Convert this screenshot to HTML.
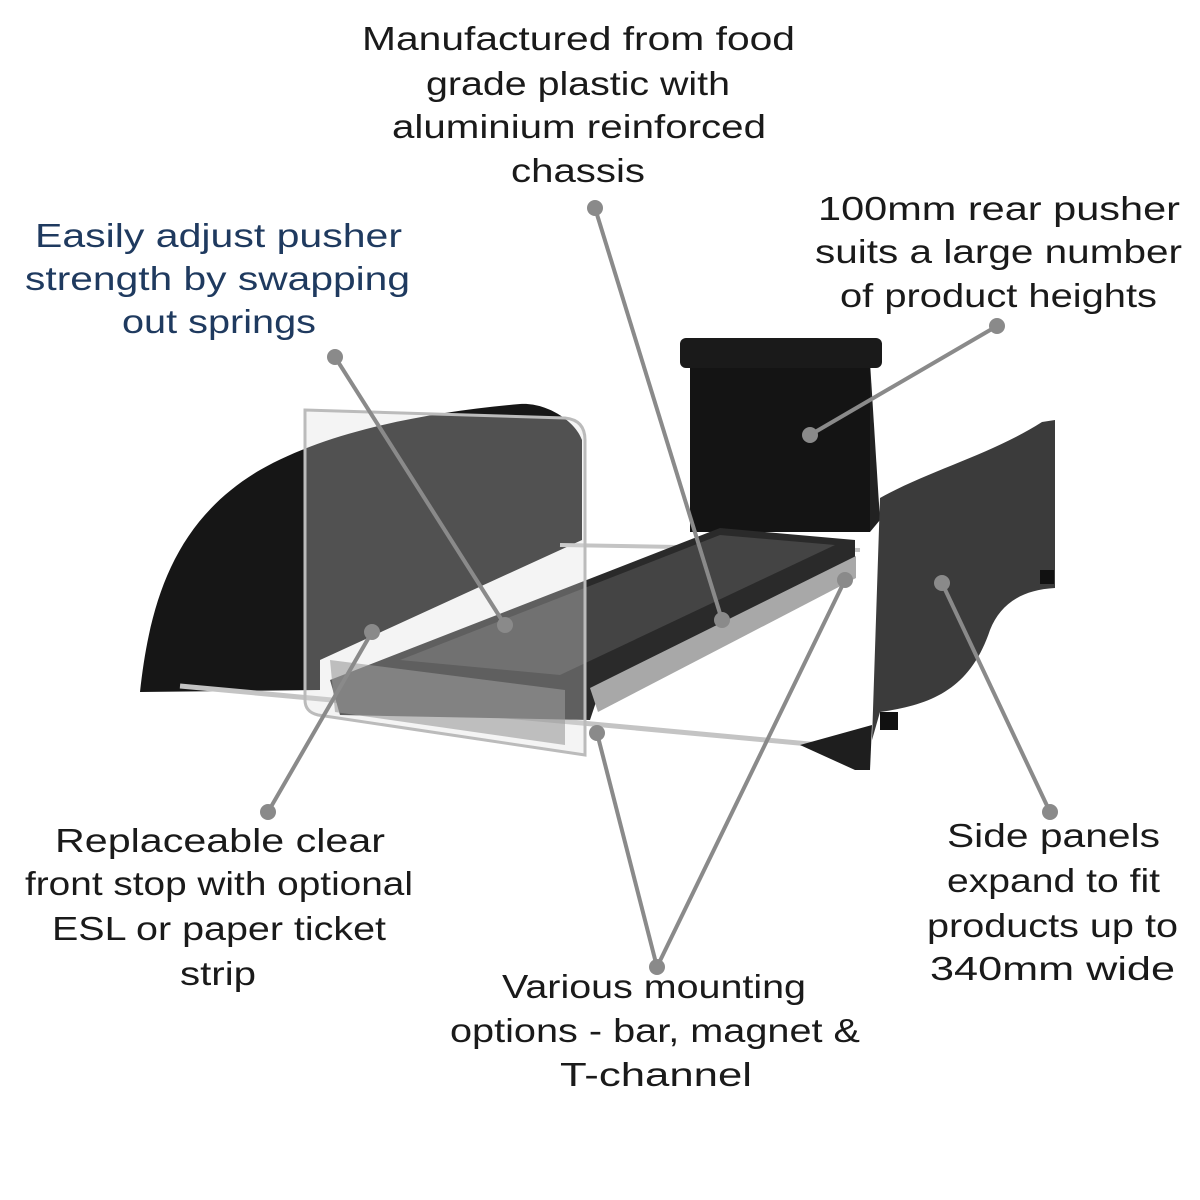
<!DOCTYPE html>
<html><head><meta charset="utf-8"><style>
html,body{margin:0;padding:0;background:#fff;}
svg{display:block;}
text{font-family:"Liberation Sans",sans-serif;font-size:33px;fill:#1a1a1a;font-weight:normal;}
.b{fill:#1f3a5f;}
</style></head><body>
<svg width="1200" height="1200" viewBox="0 0 1200 1200" xmlns="http://www.w3.org/2000/svg">
<rect width="1200" height="1200" fill="#fff"/>
<!-- left side panel -->
<path d="M140,692 C150,600 175,520 260,470 C330,430 430,412 520,404 C545,402 575,420 582,440 L582,540 L320,660 L320,690 Z" fill="#161616"/>
<!-- rods -->
<line x1="180" y1="686" x2="820" y2="745" stroke="#c4c4c4" stroke-width="5"/>
<line x1="560" y1="545" x2="860" y2="550" stroke="#c4c4c4" stroke-width="4"/>
<!-- rear pusher -->
<rect x="690" y="362" width="180" height="170" fill="#141414"/>
<path d="M870,362 L880,520 L870,532 Z" fill="#222"/>
<rect x="680" y="338" width="202" height="30" rx="6" fill="#1a1a1a"/>
<!-- chassis -->
<path d="M330,680 L720,528 L855,540 L855,560 L600,690 L590,720 L340,715 Z" fill="#2a2a2a"/>
<path d="M590,688 L856,556 L856,578 L598,712 Z" fill="#a8a8a8"/>
<path d="M400,660 L720,535 L835,545 L560,675 Z" fill="#444"/>
<!-- clear front stop -->
<path d="M305,410 L565,418 Q585,420 585,440 L585,755 L318,715 Q305,712 305,700 Z" fill="#dcdcdc" fill-opacity="0.3" stroke="#bbb" stroke-width="3"/>
<path d="M330,660 L565,690 L565,745 L335,712 Z" fill="#999" fill-opacity="0.6"/>
<!-- right side panel -->
<path d="M800,745 L872,725 L870,770 L855,770 Z" fill="#1e1e1e"/>
<path d="M880,498 C930,470 990,455 1042,422 L1055,420 L1055,588 C1020,590 1000,605 990,630 C970,690 930,705 880,712 L872,740 Z" fill="#3b3b3b"/>
<rect x="1040" y="570" width="14" height="14" fill="#111"/>
<rect x="880" y="712" width="18" height="18" fill="#111"/>
<!-- callout lines -->
<g stroke="#8a8a8a" stroke-width="4" fill="none">
<line x1="595" y1="208" x2="722" y2="620"/>
<line x1="335" y1="357" x2="505" y2="625"/>
<line x1="997" y1="326" x2="810" y2="435"/>
<line x1="942" y1="583" x2="1050" y2="812"/>
<line x1="372" y1="632" x2="268" y2="812"/>
<line x1="657" y1="967" x2="597" y2="733"/>
<line x1="657" y1="967" x2="845" y2="580"/>
</g>
<g fill="#8a8a8a">
<circle cx="595" cy="208" r="8"/><circle cx="722" cy="620" r="8"/>
<circle cx="335" cy="357" r="8"/><circle cx="505" cy="625" r="8"/>
<circle cx="997" cy="326" r="8"/><circle cx="810" cy="435" r="8"/>
<circle cx="942" cy="583" r="8"/><circle cx="1050" cy="812" r="8"/>
<circle cx="372" cy="632" r="8"/><circle cx="268" cy="812" r="8"/>
<circle cx="657" cy="967" r="8"/><circle cx="597" cy="733" r="8"/><circle cx="845" cy="580" r="8"/>
</g>
<!-- text -->
<g>
<text x="362" y="50" textLength="433" lengthAdjust="spacingAndGlyphs">Manufactured from food</text>
<text x="426" y="95" textLength="304" lengthAdjust="spacingAndGlyphs">grade plastic with</text>
<text x="392" y="138" textLength="374" lengthAdjust="spacingAndGlyphs">aluminium reinforced</text>
<text x="511" y="182" textLength="134" lengthAdjust="spacingAndGlyphs">chassis</text>
<text x="818" y="220" textLength="362" lengthAdjust="spacingAndGlyphs">100mm rear pusher</text>
<text x="815" y="263" textLength="367" lengthAdjust="spacingAndGlyphs">suits a large number</text>
<text x="840" y="307" textLength="317" lengthAdjust="spacingAndGlyphs">of product heights</text>
<text class="b" x="35" y="247" textLength="367" lengthAdjust="spacingAndGlyphs">Easily adjust pusher</text>
<text class="b" x="25" y="290" textLength="385" lengthAdjust="spacingAndGlyphs">strength by swapping</text>
<text class="b" x="122" y="333" textLength="194" lengthAdjust="spacingAndGlyphs">out springs</text>
<text x="55" y="852" textLength="330" lengthAdjust="spacingAndGlyphs">Replaceable clear</text>
<text x="25" y="895" textLength="388" lengthAdjust="spacingAndGlyphs">front stop with optional</text>
<text x="52" y="940" textLength="334" lengthAdjust="spacingAndGlyphs">ESL or paper ticket</text>
<text x="180" y="985" textLength="76" lengthAdjust="spacingAndGlyphs">strip</text>
<text x="947" y="847" textLength="213" lengthAdjust="spacingAndGlyphs">Side panels</text>
<text x="947" y="892" textLength="213" lengthAdjust="spacingAndGlyphs">expand to fit</text>
<text x="927" y="937" textLength="251" lengthAdjust="spacingAndGlyphs">products up to</text>
<text x="930" y="980" textLength="245" lengthAdjust="spacingAndGlyphs">340mm wide</text>
<text x="502" y="998" textLength="304" lengthAdjust="spacingAndGlyphs">Various mounting</text>
<text x="450" y="1042" textLength="410" lengthAdjust="spacingAndGlyphs">options - bar, magnet &amp;</text>
<text x="560" y="1086" textLength="192" lengthAdjust="spacingAndGlyphs">T-channel</text>
</g>
</svg>
</body></html>
